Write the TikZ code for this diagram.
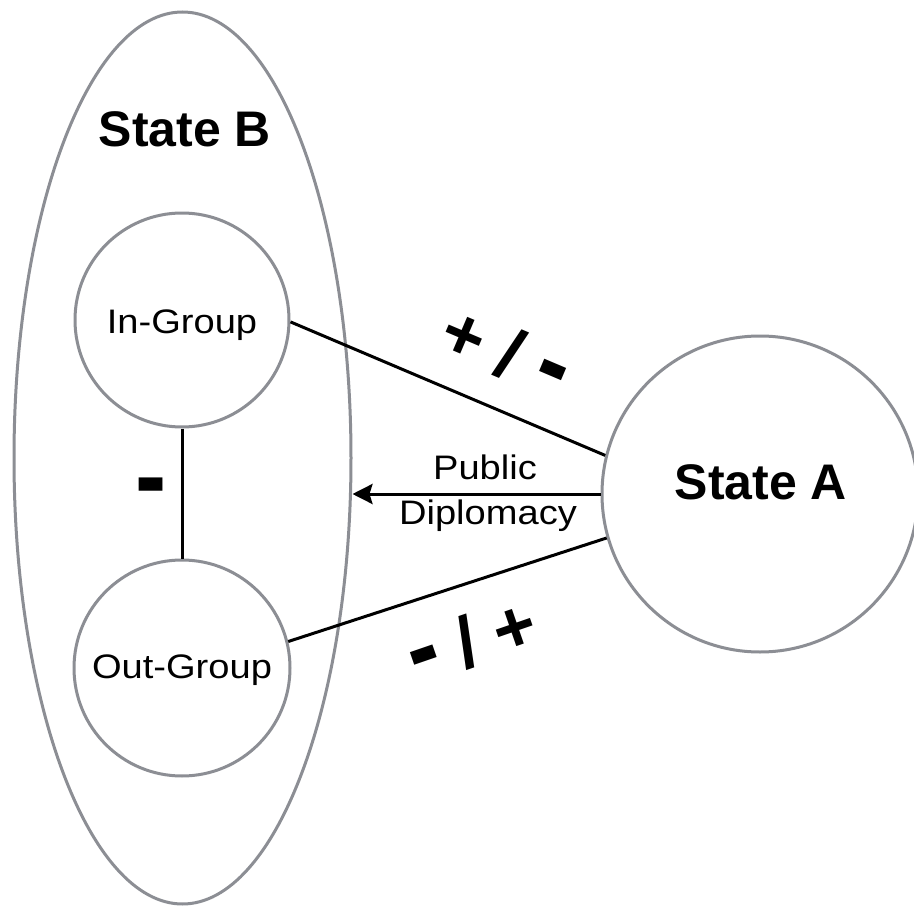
\documentclass[tikz,border=0pt]{standalone}
\usepackage{fontspec}
\setmainfont{Liberation Sans}
\newfontfamily\widefont[FakeStretch=1.12]{Liberation Sans}
\usetikzlibrary{shapes.geometric,arrows.meta}
\definecolor{ringgray}{RGB}{140,142,148}
\newcommand{\bigdash}{\raisebox{-2pt}{\scalebox{1.3}[1.55]{-}}}
\tikzset{
  ring/.style={draw=ringgray,line width=3pt,inner sep=0pt},
  link/.style={draw=black,line width=3pt},
  bigbold/.style={font=\bfseries\fontsize{50}{60}\selectfont},
  small/.style={font=\widefont\fontsize{34}{49}\selectfont,align=center},
  sign/.style={font=\bfseries\fontsize{72}{80}\selectfont,inner sep=0pt},
}
\begin{document}
\begin{tikzpicture}[x=1pt,y=-1pt]
\useasboundingbox[fill=white] (0,0) rectangle (914,907);
\node[ring,ellipse,minimum width=337pt,minimum height=892pt] (B) at (182.5,458) {};
\node[ring,circle,minimum size=214pt] (In) at (182,320) {};
\node[ring,circle,minimum size=216pt] (Out) at (182,668) {};
\node[ring,circle,minimum size=316pt] (A) at (760,494) {};
\node[bigbold] (Blab) at (185,129) {State B};
\node[bigbold] (Alab) at (761,482) {State A};
\node[small] (Inlab) at (182,325) {In-Group};
\node[small] (Outlab) at (182,670) {Out-Group};
\draw[link] (In.-1.5) -- (A.166);
\draw[link] (Out.14) -- (A.196);
\draw[link] (In.south) -- (Out.north);
\draw[link,-{Stealth[length=20pt,width=20pt,inset=3pt]}] (A.west) -- (A.west -| B.east);
\node[small] (pub) at (485,467) {Public};
\node[small] (dip) at (488,516) {Diplomacy};
\node[sign,rotate=-23] (s1) at (506,352) {+\kern19pt/\kern19pt\bigdash};
\node[sign,rotate=19] (s2) at (472,641) {\bigdash\kern19pt/\kern19pt+};
\node[sign] (s3) at (151,496) {\bigdash};
\end{tikzpicture}
\end{document}
